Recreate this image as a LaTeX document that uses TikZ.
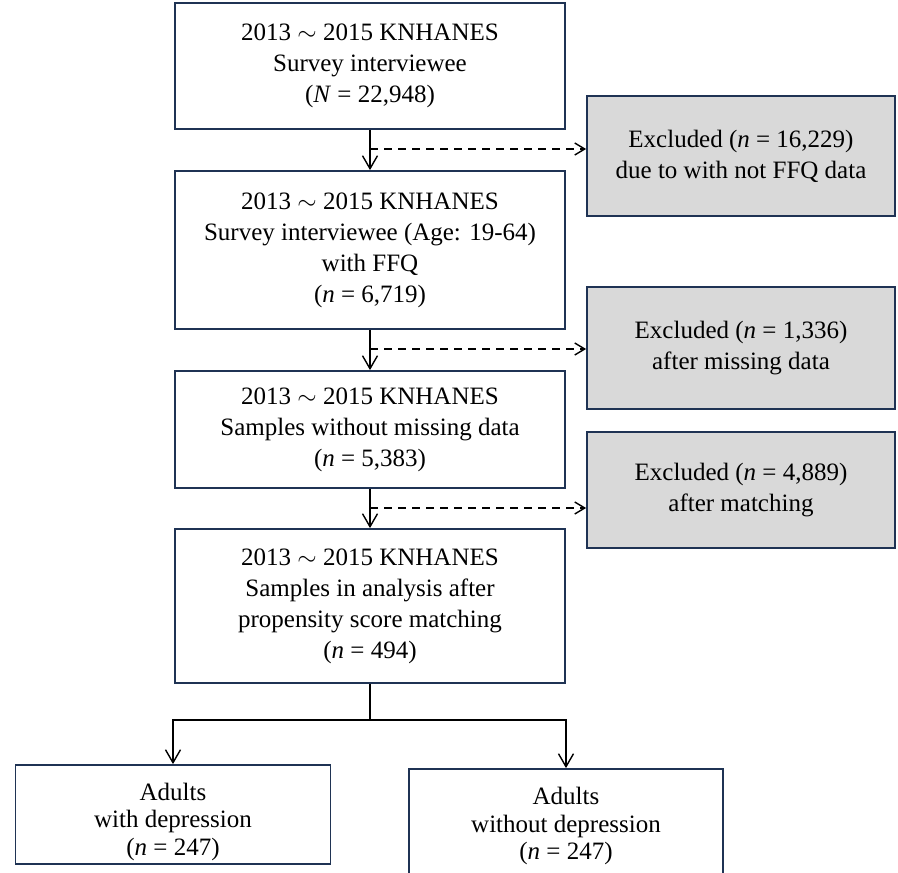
\documentclass[tikz,border=0pt]{standalone}
\usepackage{fontspec}
\setmainfont{Liberation Serif}
\usetikzlibrary{arrows.meta}
\definecolor{edge}{HTML}{1F3354}
\definecolor{shade}{HTML}{D9D9D9}
\newcommand{\tl}{$\sim$}
\begin{document}
\begin{tikzpicture}[x=1pt,y=-1pt,
  mainbox/.style={draw=edge, line width=1.8pt, fill=white, align=center, inner sep=0pt,
    font=\fontsize{25}{31}\selectfont},
  greybox/.style={mainbox, fill=shade},
  lowbox/.style={mainbox, font=\fontsize{25}{27.5}\selectfont},
  link/.style={draw=black, line width=1.4pt},
  arr/.style={link, -{Straight Barb[length=13pt,width=15pt,line width=1.4pt]}},
  darr/.style={link, dash pattern=on 8pt off 6pt, -{Straight Barb[length=10pt,width=12pt,line width=1.4pt]}}]
\useasboundingbox (0,0) rectangle (898,873);

\node[mainbox, minimum width=390pt, minimum height=126pt] (b1) at (370,66)
  {2013 \tl{} 2015 KNHANES\\Survey interviewee\\(\textit{N} = 22,948)};
\node[mainbox, minimum width=390pt, minimum height=158pt] (b2) at (370,250)
  {2013 \tl{} 2015 KNHANES\\Survey interviewee (Age: 19-64)\\with FFQ\\(\textit{n} = 6,719)};
\node[mainbox, minimum width=390pt, minimum height=117pt] (b3) at (370,429.5)
  {2013 \tl{} 2015 KNHANES\\Samples without missing data\\(\textit{n} = 5,383)};
\node[mainbox, minimum width=390pt, minimum height=154pt] (b4) at (370,606)
  {2013 \tl{} 2015 KNHANES\\Samples in analysis after\\propensity score matching\\(\textit{n} = 494)};

\node[greybox, minimum width=308pt, minimum height=120pt] (g1) at (741,156)
  {Excluded (\textit{n} = 16,229)\\due to with not FFQ data};
\node[greybox, minimum width=308pt, minimum height=122pt] (g2) at (741,348)
  {Excluded (\textit{n} = 1,336)\\after missing data};
\node[greybox, minimum width=308pt, minimum height=116pt] (g3) at (741,490)
  {Excluded (\textit{n} = 4,889)\\after matching};

\node[lowbox, minimum width=315pt, minimum height=99pt] (lw) at (173,814.5)
  {\rule{0pt}{32pt}Adults\\with depression\\(\textit{n} = 247)};
\node[lowbox, minimum width=314pt, minimum height=110pt] (rw) at (566,824)
  {\rule{0pt}{22pt}Adults\\without depression\\(\textit{n} = 247)};

\coordinate (d1) at (370,149);
\coordinate (d2) at (370,349);
\coordinate (d3) at (370,508);
\coordinate (sp) at (370,720);

\draw[arr] (b1) -- (b2);
\draw[arr] (b2) -- (b3);
\draw[arr] (b3) -- (b4);
\draw[darr] (d1) -- (g1.west |- d1);
\draw[darr] (d2) -- (g2.west |- d2);
\draw[darr] (d3) -- (g3.west |- d3);
\draw[link] (b4) -- (sp);
\draw[arr] (sp) -| (lw.north);
\draw[arr] (sp) -| (rw.north);
\end{tikzpicture}
\end{document}
